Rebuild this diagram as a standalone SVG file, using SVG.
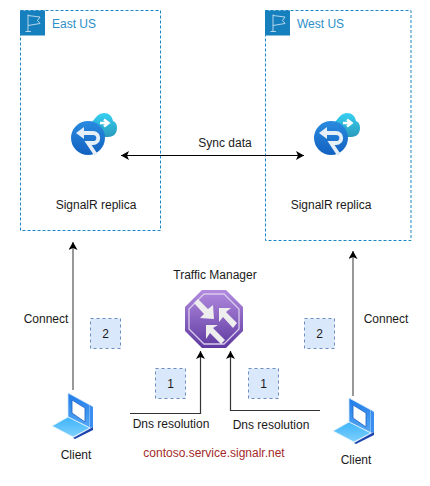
<svg xmlns="http://www.w3.org/2000/svg" width="430" height="486" viewBox="0 0 430 486">
<style>
text{font-family:"Liberation Sans",Arial,sans-serif;font-size:12px;fill:#1a1a1a;text-anchor:middle}
.region{fill:#fff;stroke:#1a86c4;stroke-width:1;stroke-dasharray:3 2}
.rl{fill:#2d8fc9;text-anchor:start}
.step{fill:#dae8fc;stroke:#6c8ebf;stroke-dasharray:3 3}
.c{fill:none;stroke:#000;stroke-width:1}
.g{fill:none;stroke:#7f7f7f;stroke-width:1.6}
.d{fill:none;stroke:#333;stroke-width:1.200}
.fl{fill:none;stroke:#dceaf4;stroke-width:.8}
.ar{fill:#eee}
</style>
<defs>
<marker id="a" markerUnits="userSpaceOnUse" markerWidth="10" markerHeight="10" refX="8" refY="4.500" orient="auto-start-reverse"><path d="M0 0L8 4.500L0 9L2 4.500Z" fill="#000"/></marker>
<linearGradient id="blue" x1="0" y1="0" x2="0" y2="1"><stop offset="0" stop-color="#2a8be0"/><stop offset="1" stop-color="#1261c0"/></linearGradient>
<linearGradient id="cloud" x1="0" y1="0" x2="0" y2="1"><stop offset="0" stop-color="#35d0f2"/><stop offset="1" stop-color="#2a9bbd"/></linearGradient>
<linearGradient id="pur" x1="0" y1="0" x2="0" y2="1"><stop offset="0" stop-color="#b28adf"/><stop offset="1" stop-color="#5e3aa0"/></linearGradient>
<linearGradient id="scr" x1="0" y1="0" x2="0" y2="1"><stop offset="0" stop-color="#1f7be8"/><stop offset="1" stop-color="#56a8f5"/></linearGradient>
<linearGradient id="kb" x1="0" y1="0" x2="0" y2="1"><stop offset="0" stop-color="#3db4fb"/><stop offset="1" stop-color="#7fd0fb"/></linearGradient>
<g id="flag"><rect width="25" height="25" fill="#1680bf"/><path class="fl" d="M8 21V4M5.500 21H11M8 5L20 6.500L17.500 10L20 13L8 15"/></g>
<g id="sr">
<path d="M2 -15C6 -16 8 -25 16 -25C21 -25 24 -22 25 -17C28 -16 29 -13 29 -10C29 -5 26 -1 20 -1H10Z" fill="url(#cloud)"/>
<path d="M12 -15H19M16 -18.500L20.500 -15L16 -11.500" fill="none" stroke="#fff" stroke-width="2.500"/>
<circle r="17" fill="url(#blue)"/>
<path d="M-7 -5H5C12 -5 12 5 5 5H0L8 17" fill="none" stroke="#e6eef8" stroke-width="3.800"/>
<path d="M-12 -5L-4 -11V1Z" fill="#e6eef8"/>
</g>
<g id="pc">
<path d="M-4 -19L18 -7V16L-4 5Z" fill="url(#scr)" stroke="#cfe6fb" stroke-width=".8"/>
<path d="M0 -12L13 -4V10L0 1Z" fill="#fff" stroke="#1a5fc0" stroke-width=".8"/>
<path d="M18 -7L21 -5V15L18 16Z" fill="#3a8ef0"/>
<path d="M-4 5L18 16L1 25L-20 14Z" fill="url(#kb)" stroke="#e8f5fe" stroke-width=".8"/>
<path d="M1 26L21 15V18L3 27Z" fill="#1d45b0"/>
</g>
</defs>
<g id="east-us"><rect class="region" x="20.500" y="10.500" width="140" height="220"/><use href="#flag" x="20" y="10.500"/><text class="rl" x="52" y="28">East US</text></g>
<g id="west-us"><rect class="region" x="265.500" y="10.500" width="145.500" height="230"/><use href="#flag" x="265" y="10.500"/><text class="rl" x="297" y="28">West US</text></g>
<g id="connectors">
<path class="c" marker-start="url(#a)" marker-end="url(#a)" d="M121 155.500H304"/>
<path class="g" marker-end="url(#a)" d="M73 390V242"/>
<path class="g" marker-end="url(#a)" d="M353 396V251"/>
<path class="d" marker-end="url(#a)" d="M130 413.500H200.500V351"/>
<path class="d" marker-end="url(#a)" d="M320 410.500H230.500V351"/>
<text x="225" y="147">Sync data</text>
<text x="46" y="323">Connect</text>
<text x="386" y="323">Connect</text>
<text x="171" y="428">Dns resolution</text>
<text x="271" y="429">Dns resolution</text>
</g>
<g id="signalr-east"><use href="#sr" x="88" y="138"/><text x="96" y="209">SignalR replica</text></g>
<g id="signalr-west"><use href="#sr" x="331" y="138"/><text x="331" y="209">SignalR replica</text></g>
<g id="traffic-manager">
<path d="M202 290H226L243 307V331L226 348H202L185 331V307Z" fill="url(#pur)"/>
<path d="M204 294H224L239 309V329L224 344H204L189 329V309Z" fill="none" stroke="#d9ccec" stroke-width="1.300"/>
<path class="ar" d="M198 299L208 309L213 305L214 319L200 318L204 314L194 303Z"/>
<path class="ar" d="M237 323L226 312L231 308L219 308L219 322L223 317L233 328Z"/>
<path class="ar" d="M225 340L213 328L218 325L206 325L206 339L210 333L221 344Z"/>
<text x="215" y="279">Traffic Manager</text>
</g>
<g id="client-east"><use href="#pc" x="72" y="412"/><text x="76" y="459">Client</text></g>
<g id="client-west"><use href="#pc" x="353" y="417"/><text x="356" y="464">Client</text></g>
<g id="step-2-east"><rect class="step" x="90.500" y="318.500" width="30" height="30"/><text x="105.500" y="338">2</text></g>
<g id="step-1-west"><rect class="step" x="155.500" y="368.500" width="30" height="30"/><text x="170.500" y="388">1</text></g>
<g id="step-1-east"><rect class="step" x="248.500" y="368.500" width="30" height="30"/><text x="263.500" y="388">1</text></g>
<g id="step-2-west"><rect class="step" x="304.500" y="318.500" width="30" height="30"/><text x="319.500" y="338">2</text></g>
<g id="endpoint"><text x="214" y="457" style="fill:#a52a2a">contoso.service.signalr.net</text></g>
</svg>
